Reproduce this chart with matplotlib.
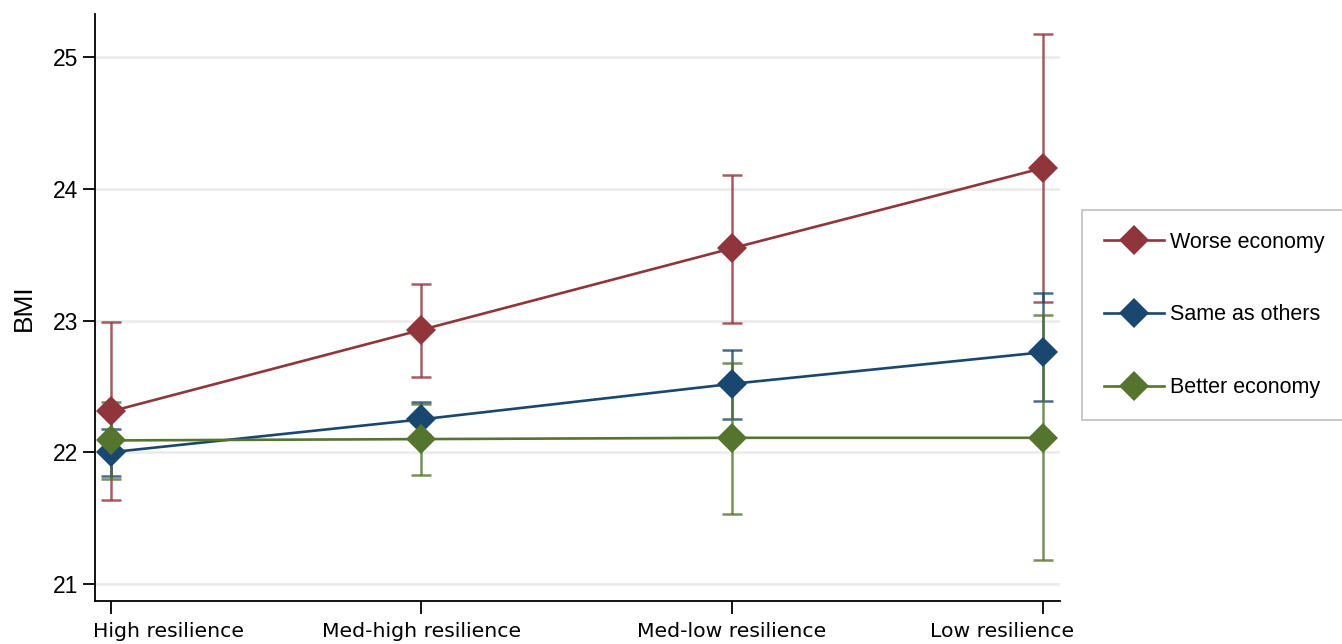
import matplotlib
matplotlib.use("Agg")
import matplotlib.pyplot as plt
from matplotlib.lines import Line2D
from matplotlib.transforms import ScaledTranslation

# Resilience categories along the x axis
categories = ["High resilience", "Med-high resilience", "Med-low resilience", "Low resilience"]

# Predicted BMI with 95% confidence bounds, by perceived economic position
worse_mean = [22.31, 22.93, 23.55, 24.16]
worse_lo = [21.64, 22.57, 22.98, 23.14]
worse_hi = [22.99, 23.28, 24.11, 25.18]

same_mean = [22.00, 22.25, 22.52, 22.76]
same_lo = [21.82, 22.13, 22.25, 22.39]
same_hi = [22.18, 22.38, 22.78, 23.21]

better_mean = [22.09, 22.10, 22.11, 22.11]
better_lo = [21.80, 21.83, 21.53, 21.18]
better_hi = [22.38, 22.37, 22.68, 23.04]

series = [
    ("Worse economy", worse_mean, worse_lo, worse_hi, "#90353b"),
    ("Same as others", same_mean, same_lo, same_hi, "#1a476f"),
    ("Better economy", better_mean, better_lo, better_hi, "#55752f"),
]

plt.rcParams["font.family"] = ["Liberation Sans", "DejaVu Sans"]

fig = plt.figure(figsize=(13.42, 6.44), dpi=100)
ax = fig.add_axes([95 / 1342, 1 - 601 / 644, (1060 - 95) / 1342, (601 - 14) / 644])

x = list(range(len(categories)))

# confidence intervals first so the connected means sit above them
for label, mean, lo, hi, color in series:
    yerr = [[m - l for m, l in zip(mean, lo)], [h - m for m, h in zip(mean, hi)]]
    ax.errorbar(x, mean, yerr=yerr, fmt="none", ecolor=color, elinewidth=1.8,
                capsize=7, capthick=1.8, alpha=0.8, zorder=2)

for label, mean, lo, hi, color in series:
    ax.plot(x, mean, color=color, lw=1.9, marker="D", markersize=15,
            markeredgewidth=0, zorder=3)

ax.set_xlim(-0.05, 3.055)
ax.set_ylim(20.87, 25.33)
ax.set_yticks([21, 22, 23, 24, 25])
ax.set_xticks(x)
ax.set_xticklabels(categories, fontsize=14.7, family=["DejaVu Sans"])
ax.tick_params(axis="y", labelsize=16.5, length=9, width=1.3, pad=3)
ax.tick_params(axis="x", length=9, width=1.3, pad=6)

# keep the outer category labels inside the plot width
xlabels = ax.get_xticklabels()
xlabels[0].set_ha("left")
xlabels[0].set_transform(xlabels[0].get_transform()
                         + ScaledTranslation(-0.18, 0, fig.dpi_scale_trans))
xlabels[-1].set_ha("right")
xlabels[-1].set_transform(xlabels[-1].get_transform()
                          + ScaledTranslation(0.31, 0, fig.dpi_scale_trans))

ax.yaxis.grid(True, color="#eaeaea", lw=1.8)
ax.set_axisbelow(True)
for side in ("top", "right"):
    ax.spines[side].set_visible(False)
for side in ("left", "bottom"):
    ax.spines[side].set_linewidth(1.3)
ax.set_ylabel("BMI", fontsize=19, labelpad=12)

handles = [Line2D([0], [0], color=c, lw=1.9, marker="D", markersize=15,
                  markeredgewidth=0) for _, _, _, _, c in series]
labels = [s[0] for s in series]
leg = fig.legend(handles, labels, loc="center left",
                 bbox_to_anchor=(1082 / 1342, 1 - 315 / 644),
                 fontsize=15.5, frameon=True, fancybox=False, edgecolor="#b0b0b0",
                 handlelength=2.8, labelspacing=2.4, borderpad=1.0, handletextpad=0.3,
                 borderaxespad=0)
leg.get_frame().set_linewidth(1.2)

fig.savefig("out.png", dpi=100)
